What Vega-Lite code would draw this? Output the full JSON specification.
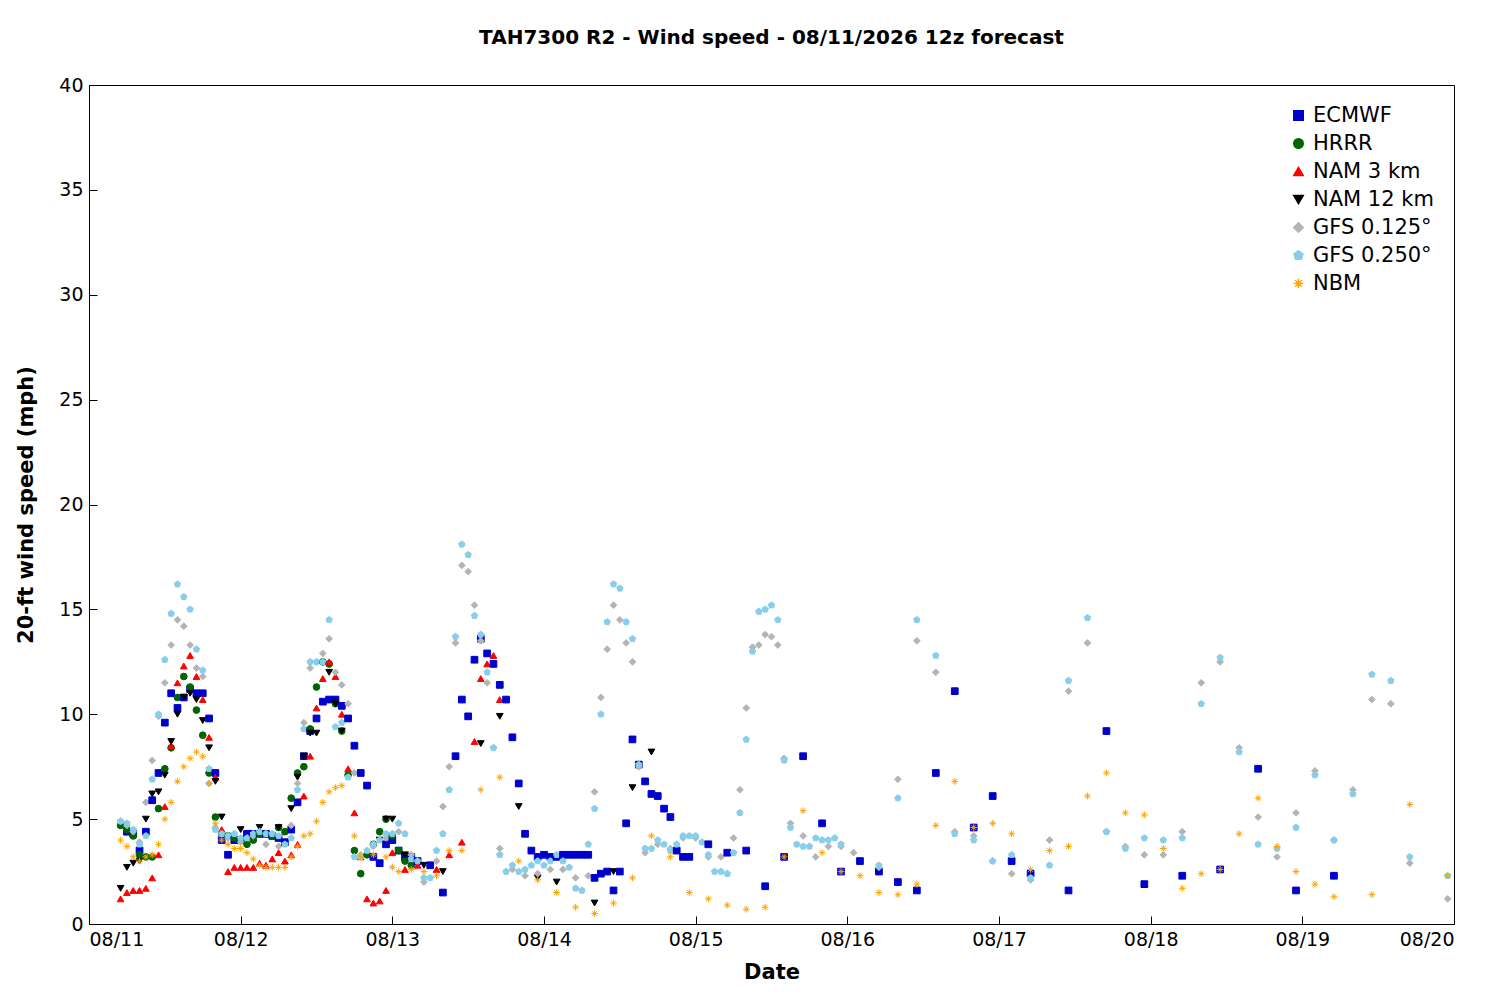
{
"$schema":"https://vega.github.io/schema/vega-lite/v6.json",
"width":1500,"height":1000,"autosize":{"type":"fit","contains":"padding"},
"padding":{"left":15,"right":45,"top":28,"bottom":18},
"background":"white",
"title":{"text":"TAH7300 R2 - Wind speed - 08/11/2026 12z forecast","font":"DejaVu Sans","fontSize":20,"fontWeight":"bold","color":"black","offset":28},
"config":{"view":{"stroke":"black","strokeWidth":1},"axis":{"grid":false,"labelFont":"DejaVu Sans","titleFont":"DejaVu Sans","labelFontSize":19,"titleFontSize":21,"titleFontWeight":"bold","labelColor":"black","titleColor":"black","domainColor":"black","tickColor":"black","tickSize":-8,"labelPadding":14}},
"datasets":{"d":[
{"m":"ECMWF","h":6,"v":4.4},{"m":"ECMWF","h":7,"v":4.3},{"m":"ECMWF","h":8,"v":3.5},{"m":"ECMWF","h":9,"v":4.4},{"m":"ECMWF","h":10,"v":5.9},{"m":"ECMWF","h":11,"v":7.2},{"m":"ECMWF","h":12,"v":9.6},{"m":"ECMWF","h":13,"v":11.0},{"m":"ECMWF","h":14,"v":10.3},{"m":"ECMWF","h":15,"v":10.8},{"m":"ECMWF","h":16,"v":11.2},{"m":"ECMWF","h":17,"v":11.0},{"m":"ECMWF","h":18,"v":11.0},{"m":"ECMWF","h":19,"v":9.8},{"m":"ECMWF","h":20,"v":7.2},{"m":"ECMWF","h":21,"v":4.0},{"m":"ECMWF","h":22,"v":3.3},{"m":"ECMWF","h":23,"v":4.0},{"m":"ECMWF","h":24,"v":4.0},{"m":"ECMWF","h":25,"v":4.3},{"m":"ECMWF","h":26,"v":4.3},{"m":"ECMWF","h":27,"v":4.3},{"m":"ECMWF","h":28,"v":4.3},{"m":"ECMWF","h":29,"v":4.2},{"m":"ECMWF","h":30,"v":4.1},{"m":"ECMWF","h":31,"v":3.9},{"m":"ECMWF","h":32,"v":4.5},{"m":"ECMWF","h":33,"v":5.8},{"m":"ECMWF","h":34,"v":8.0},{"m":"ECMWF","h":35,"v":9.2},{"m":"ECMWF","h":36,"v":9.8},{"m":"ECMWF","h":37,"v":10.6},{"m":"ECMWF","h":38,"v":10.7},{"m":"ECMWF","h":39,"v":10.7},{"m":"ECMWF","h":40,"v":10.4},{"m":"ECMWF","h":41,"v":9.8},{"m":"ECMWF","h":42,"v":8.5},{"m":"ECMWF","h":43,"v":7.2},{"m":"ECMWF","h":44,"v":6.6},{"m":"ECMWF","h":45,"v":3.2},{"m":"ECMWF","h":46,"v":2.9},{"m":"ECMWF","h":47,"v":3.8},{"m":"ECMWF","h":48,"v":4.0},{"m":"ECMWF","h":49,"v":3.5},{"m":"ECMWF","h":50,"v":3.2},{"m":"ECMWF","h":51,"v":3.2},{"m":"ECMWF","h":52,"v":3.0},{"m":"ECMWF","h":54,"v":2.8},{"m":"ECMWF","h":56,"v":1.5},{"m":"ECMWF","h":58,"v":8.0},{"m":"ECMWF","h":59,"v":10.7},{"m":"ECMWF","h":60,"v":9.9},{"m":"ECMWF","h":61,"v":12.6},{"m":"ECMWF","h":62,"v":13.6},{"m":"ECMWF","h":63,"v":12.9},{"m":"ECMWF","h":64,"v":12.4},{"m":"ECMWF","h":65,"v":11.4},{"m":"ECMWF","h":66,"v":10.7},{"m":"ECMWF","h":67,"v":8.9},{"m":"ECMWF","h":68,"v":6.7},{"m":"ECMWF","h":69,"v":4.3},{"m":"ECMWF","h":70,"v":3.5},{"m":"ECMWF","h":71,"v":3.2},{"m":"ECMWF","h":72,"v":3.3},{"m":"ECMWF","h":73,"v":3.2},{"m":"ECMWF","h":74,"v":3.2},{"m":"ECMWF","h":75,"v":3.3},{"m":"ECMWF","h":76,"v":3.3},{"m":"ECMWF","h":77,"v":3.3},{"m":"ECMWF","h":78,"v":3.3},{"m":"ECMWF","h":79,"v":3.3},{"m":"ECMWF","h":80,"v":2.2},{"m":"ECMWF","h":81,"v":2.4},{"m":"ECMWF","h":82,"v":2.5},{"m":"ECMWF","h":83,"v":1.6},{"m":"ECMWF","h":84,"v":2.5},{"m":"ECMWF","h":85,"v":4.8},{"m":"ECMWF","h":86,"v":8.8},{"m":"ECMWF","h":87,"v":7.6},{"m":"ECMWF","h":88,"v":6.8},{"m":"ECMWF","h":89,"v":6.2},{"m":"ECMWF","h":90,"v":6.1},{"m":"ECMWF","h":91,"v":5.5},{"m":"ECMWF","h":92,"v":5.1},{"m":"ECMWF","h":93,"v":3.5},{"m":"ECMWF","h":94,"v":3.2},{"m":"ECMWF","h":95,"v":3.2},{"m":"ECMWF","h":98,"v":3.8},{"m":"ECMWF","h":101,"v":3.4},{"m":"ECMWF","h":104,"v":3.5},{"m":"ECMWF","h":107,"v":1.8},{"m":"ECMWF","h":110,"v":3.2},{"m":"ECMWF","h":113,"v":8.0},{"m":"ECMWF","h":116,"v":4.8},{"m":"ECMWF","h":119,"v":2.5},{"m":"ECMWF","h":122,"v":3.0},{"m":"ECMWF","h":125,"v":2.5},{"m":"ECMWF","h":128,"v":2.0},{"m":"ECMWF","h":131,"v":1.6},{"m":"ECMWF","h":134,"v":7.2},{"m":"ECMWF","h":137,"v":11.1},{"m":"ECMWF","h":140,"v":4.6},{"m":"ECMWF","h":143,"v":6.1},{"m":"ECMWF","h":146,"v":3.0},{"m":"ECMWF","h":149,"v":2.4},{"m":"ECMWF","h":155,"v":1.6},{"m":"ECMWF","h":161,"v":9.2},{"m":"ECMWF","h":167,"v":1.9},{"m":"ECMWF","h":173,"v":2.3},{"m":"ECMWF","h":179,"v":2.6},{"m":"ECMWF","h":185,"v":7.4},{"m":"ECMWF","h":191,"v":1.6},{"m":"ECMWF","h":197,"v":2.3},
{"m":"HRRR","h":5,"v":4.7},{"m":"HRRR","h":6,"v":4.5},{"m":"HRRR","h":7,"v":4.2},{"m":"HRRR","h":8,"v":3.3},{"m":"HRRR","h":9,"v":3.2},{"m":"HRRR","h":10,"v":3.2},{"m":"HRRR","h":11,"v":5.5},{"m":"HRRR","h":12,"v":7.4},{"m":"HRRR","h":13,"v":8.4},{"m":"HRRR","h":14,"v":10.8},{"m":"HRRR","h":15,"v":11.8},{"m":"HRRR","h":16,"v":11.3},{"m":"HRRR","h":17,"v":10.2},{"m":"HRRR","h":18,"v":9.0},{"m":"HRRR","h":19,"v":7.2},{"m":"HRRR","h":20,"v":5.1},{"m":"HRRR","h":21,"v":4.3},{"m":"HRRR","h":22,"v":4.2},{"m":"HRRR","h":23,"v":4.1},{"m":"HRRR","h":24,"v":4.0},{"m":"HRRR","h":25,"v":3.8},{"m":"HRRR","h":26,"v":4.0},{"m":"HRRR","h":27,"v":4.3},{"m":"HRRR","h":28,"v":4.3},{"m":"HRRR","h":29,"v":4.2},{"m":"HRRR","h":30,"v":4.6},{"m":"HRRR","h":31,"v":4.4},{"m":"HRRR","h":32,"v":6.0},{"m":"HRRR","h":33,"v":7.2},{"m":"HRRR","h":34,"v":7.5},{"m":"HRRR","h":35,"v":9.3},{"m":"HRRR","h":36,"v":11.3},{"m":"HRRR","h":37,"v":12.5},{"m":"HRRR","h":38,"v":12.4},{"m":"HRRR","h":39,"v":10.5},{"m":"HRRR","h":40,"v":9.2},{"m":"HRRR","h":41,"v":7.1},{"m":"HRRR","h":42,"v":3.5},{"m":"HRRR","h":43,"v":2.4},{"m":"HRRR","h":44,"v":3.3},{"m":"HRRR","h":45,"v":3.8},{"m":"HRRR","h":46,"v":4.4},{"m":"HRRR","h":47,"v":5.0},{"m":"HRRR","h":48,"v":4.2},{"m":"HRRR","h":49,"v":3.5},{"m":"HRRR","h":50,"v":3.0},{"m":"HRRR","h":51,"v":2.8},
{"m":"NAM 3 km","h":5,"v":1.2},{"m":"NAM 3 km","h":6,"v":1.5},{"m":"NAM 3 km","h":7,"v":1.6},{"m":"NAM 3 km","h":8,"v":1.6},{"m":"NAM 3 km","h":9,"v":1.7},{"m":"NAM 3 km","h":10,"v":2.2},{"m":"NAM 3 km","h":11,"v":3.3},{"m":"NAM 3 km","h":12,"v":5.6},{"m":"NAM 3 km","h":13,"v":8.5},{"m":"NAM 3 km","h":14,"v":11.5},{"m":"NAM 3 km","h":15,"v":12.3},{"m":"NAM 3 km","h":16,"v":12.8},{"m":"NAM 3 km","h":17,"v":11.8},{"m":"NAM 3 km","h":18,"v":10.7},{"m":"NAM 3 km","h":19,"v":8.9},{"m":"NAM 3 km","h":20,"v":7.0},{"m":"NAM 3 km","h":21,"v":4.5},{"m":"NAM 3 km","h":22,"v":2.5},{"m":"NAM 3 km","h":23,"v":2.7},{"m":"NAM 3 km","h":24,"v":2.7},{"m":"NAM 3 km","h":25,"v":2.7},{"m":"NAM 3 km","h":26,"v":2.7},{"m":"NAM 3 km","h":27,"v":2.9},{"m":"NAM 3 km","h":28,"v":2.8},{"m":"NAM 3 km","h":29,"v":3.1},{"m":"NAM 3 km","h":30,"v":3.4},{"m":"NAM 3 km","h":31,"v":3.0},{"m":"NAM 3 km","h":32,"v":3.3},{"m":"NAM 3 km","h":33,"v":3.8},{"m":"NAM 3 km","h":34,"v":6.1},{"m":"NAM 3 km","h":35,"v":8.0},{"m":"NAM 3 km","h":36,"v":10.3},{"m":"NAM 3 km","h":37,"v":11.7},{"m":"NAM 3 km","h":38,"v":12.5},{"m":"NAM 3 km","h":39,"v":11.8},{"m":"NAM 3 km","h":40,"v":10.0},{"m":"NAM 3 km","h":41,"v":7.4},{"m":"NAM 3 km","h":42,"v":5.3},{"m":"NAM 3 km","h":43,"v":3.2},{"m":"NAM 3 km","h":44,"v":1.2},{"m":"NAM 3 km","h":45,"v":1.0},{"m":"NAM 3 km","h":46,"v":1.1},{"m":"NAM 3 km","h":47,"v":1.6},{"m":"NAM 3 km","h":48,"v":3.4},{"m":"NAM 3 km","h":50,"v":2.6},{"m":"NAM 3 km","h":52,"v":2.8},{"m":"NAM 3 km","h":55,"v":2.6},{"m":"NAM 3 km","h":57,"v":3.3},{"m":"NAM 3 km","h":59,"v":3.9},{"m":"NAM 3 km","h":61,"v":8.7},{"m":"NAM 3 km","h":62,"v":11.7},{"m":"NAM 3 km","h":63,"v":12.4},{"m":"NAM 3 km","h":64,"v":12.8},{"m":"NAM 3 km","h":65,"v":10.7},
{"m":"NAM 12 km","h":5,"v":1.7},{"m":"NAM 12 km","h":6,"v":2.7},{"m":"NAM 12 km","h":7,"v":2.9},{"m":"NAM 12 km","h":8,"v":3.0},{"m":"NAM 12 km","h":9,"v":5.0},{"m":"NAM 12 km","h":10,"v":6.2},{"m":"NAM 12 km","h":11,"v":6.3},{"m":"NAM 12 km","h":12,"v":7.1},{"m":"NAM 12 km","h":13,"v":8.7},{"m":"NAM 12 km","h":14,"v":10.0},{"m":"NAM 12 km","h":15,"v":10.8},{"m":"NAM 12 km","h":16,"v":11.0},{"m":"NAM 12 km","h":17,"v":10.7},{"m":"NAM 12 km","h":18,"v":9.7},{"m":"NAM 12 km","h":19,"v":8.4},{"m":"NAM 12 km","h":20,"v":6.8},{"m":"NAM 12 km","h":21,"v":5.1},{"m":"NAM 12 km","h":24,"v":4.5},{"m":"NAM 12 km","h":27,"v":4.6},{"m":"NAM 12 km","h":30,"v":4.6},{"m":"NAM 12 km","h":32,"v":5.5},{"m":"NAM 12 km","h":33,"v":7.0},{"m":"NAM 12 km","h":34,"v":8.0},{"m":"NAM 12 km","h":35,"v":9.1},{"m":"NAM 12 km","h":36,"v":9.1},{"m":"NAM 12 km","h":38,"v":12.0},{"m":"NAM 12 km","h":39,"v":10.5},{"m":"NAM 12 km","h":40,"v":9.2},{"m":"NAM 12 km","h":46,"v":4.0},{"m":"NAM 12 km","h":47,"v":5.0},{"m":"NAM 12 km","h":48,"v":5.0},{"m":"NAM 12 km","h":50,"v":3.3},{"m":"NAM 12 km","h":53,"v":2.8},{"m":"NAM 12 km","h":56,"v":2.5},{"m":"NAM 12 km","h":62,"v":8.6},{"m":"NAM 12 km","h":65,"v":9.9},{"m":"NAM 12 km","h":68,"v":5.6},{"m":"NAM 12 km","h":71,"v":2.2},{"m":"NAM 12 km","h":74,"v":2.0},{"m":"NAM 12 km","h":80,"v":1.0},{"m":"NAM 12 km","h":83,"v":2.5},{"m":"NAM 12 km","h":86,"v":6.5},{"m":"NAM 12 km","h":89,"v":8.2},
{"m":"GFS 0.125°","h":5,"v":4.9},{"m":"GFS 0.125°","h":6,"v":4.7},{"m":"GFS 0.125°","h":7,"v":4.4},{"m":"GFS 0.125°","h":8,"v":3.9},{"m":"GFS 0.125°","h":9,"v":5.8},{"m":"GFS 0.125°","h":10,"v":7.8},{"m":"GFS 0.125°","h":11,"v":9.9},{"m":"GFS 0.125°","h":12,"v":11.5},{"m":"GFS 0.125°","h":13,"v":13.3},{"m":"GFS 0.125°","h":14,"v":14.5},{"m":"GFS 0.125°","h":15,"v":14.2},{"m":"GFS 0.125°","h":16,"v":13.3},{"m":"GFS 0.125°","h":17,"v":12.2},{"m":"GFS 0.125°","h":18,"v":11.8},{"m":"GFS 0.125°","h":19,"v":6.7},{"m":"GFS 0.125°","h":20,"v":4.6},{"m":"GFS 0.125°","h":22,"v":4.1},{"m":"GFS 0.125°","h":24,"v":3.9},{"m":"GFS 0.125°","h":26,"v":4.2},{"m":"GFS 0.125°","h":28,"v":3.8},{"m":"GFS 0.125°","h":30,"v":3.7},{"m":"GFS 0.125°","h":32,"v":4.7},{"m":"GFS 0.125°","h":33,"v":6.7},{"m":"GFS 0.125°","h":34,"v":9.6},{"m":"GFS 0.125°","h":35,"v":12.2},{"m":"GFS 0.125°","h":36,"v":12.5},{"m":"GFS 0.125°","h":37,"v":12.9},{"m":"GFS 0.125°","h":38,"v":13.6},{"m":"GFS 0.125°","h":39,"v":12.0},{"m":"GFS 0.125°","h":40,"v":11.4},{"m":"GFS 0.125°","h":41,"v":10.5},{"m":"GFS 0.125°","h":42,"v":7.2},{"m":"GFS 0.125°","h":43,"v":3.3},{"m":"GFS 0.125°","h":45,"v":3.7},{"m":"GFS 0.125°","h":47,"v":4.1},{"m":"GFS 0.125°","h":49,"v":4.4},{"m":"GFS 0.125°","h":51,"v":3.3},{"m":"GFS 0.125°","h":53,"v":2.0},{"m":"GFS 0.125°","h":55,"v":3.0},{"m":"GFS 0.125°","h":56,"v":5.6},{"m":"GFS 0.125°","h":57,"v":7.5},{"m":"GFS 0.125°","h":58,"v":13.4},{"m":"GFS 0.125°","h":59,"v":17.1},{"m":"GFS 0.125°","h":60,"v":16.8},{"m":"GFS 0.125°","h":61,"v":15.2},{"m":"GFS 0.125°","h":62,"v":13.5},{"m":"GFS 0.125°","h":63,"v":11.5},{"m":"GFS 0.125°","h":64,"v":8.4},{"m":"GFS 0.125°","h":65,"v":3.6},{"m":"GFS 0.125°","h":67,"v":2.6},{"m":"GFS 0.125°","h":69,"v":2.3},{"m":"GFS 0.125°","h":71,"v":2.4},{"m":"GFS 0.125°","h":73,"v":2.6},{"m":"GFS 0.125°","h":75,"v":2.6},{"m":"GFS 0.125°","h":77,"v":2.2},{"m":"GFS 0.125°","h":79,"v":2.3},{"m":"GFS 0.125°","h":80,"v":6.3},{"m":"GFS 0.125°","h":81,"v":10.8},{"m":"GFS 0.125°","h":82,"v":13.1},{"m":"GFS 0.125°","h":83,"v":15.2},{"m":"GFS 0.125°","h":84,"v":14.5},{"m":"GFS 0.125°","h":85,"v":13.4},{"m":"GFS 0.125°","h":86,"v":12.5},{"m":"GFS 0.125°","h":87,"v":7.5},{"m":"GFS 0.125°","h":88,"v":3.4},{"m":"GFS 0.125°","h":90,"v":3.8},{"m":"GFS 0.125°","h":92,"v":3.6},{"m":"GFS 0.125°","h":94,"v":4.1},{"m":"GFS 0.125°","h":96,"v":4.1},{"m":"GFS 0.125°","h":98,"v":3.2},{"m":"GFS 0.125°","h":100,"v":3.2},{"m":"GFS 0.125°","h":102,"v":4.1},{"m":"GFS 0.125°","h":103,"v":6.4},{"m":"GFS 0.125°","h":104,"v":10.3},{"m":"GFS 0.125°","h":105,"v":13.2},{"m":"GFS 0.125°","h":106,"v":13.3},{"m":"GFS 0.125°","h":107,"v":13.8},{"m":"GFS 0.125°","h":108,"v":13.7},{"m":"GFS 0.125°","h":109,"v":13.3},{"m":"GFS 0.125°","h":110,"v":7.9},{"m":"GFS 0.125°","h":111,"v":4.8},{"m":"GFS 0.125°","h":113,"v":4.2},{"m":"GFS 0.125°","h":115,"v":3.2},{"m":"GFS 0.125°","h":117,"v":3.7},{"m":"GFS 0.125°","h":119,"v":3.7},{"m":"GFS 0.125°","h":121,"v":3.4},
{"m":"GFS 0.125°","h":125,"v":2.7},{"m":"GFS 0.125°","h":128,"v":6.9},{"m":"GFS 0.125°","h":131,"v":13.5},{"m":"GFS 0.125°","h":134,"v":12.0},{"m":"GFS 0.125°","h":137,"v":4.4},{"m":"GFS 0.125°","h":140,"v":4.2},{"m":"GFS 0.125°","h":143,"v":3.0},{"m":"GFS 0.125°","h":146,"v":2.4},{"m":"GFS 0.125°","h":149,"v":2.1},{"m":"GFS 0.125°","h":152,"v":4.0},{"m":"GFS 0.125°","h":155,"v":11.1},{"m":"GFS 0.125°","h":158,"v":13.4},{"m":"GFS 0.125°","h":161,"v":4.4},{"m":"GFS 0.125°","h":164,"v":3.7},{"m":"GFS 0.125°","h":167,"v":3.3},{"m":"GFS 0.125°","h":170,"v":3.3},{"m":"GFS 0.125°","h":173,"v":4.4},{"m":"GFS 0.125°","h":176,"v":11.5},{"m":"GFS 0.125°","h":179,"v":12.5},{"m":"GFS 0.125°","h":182,"v":8.4},{"m":"GFS 0.125°","h":185,"v":5.1},{"m":"GFS 0.125°","h":188,"v":3.2},{"m":"GFS 0.125°","h":191,"v":5.3},{"m":"GFS 0.125°","h":194,"v":7.3},{"m":"GFS 0.125°","h":197,"v":4.0},{"m":"GFS 0.125°","h":200,"v":6.4},{"m":"GFS 0.125°","h":203,"v":10.7},{"m":"GFS 0.125°","h":206,"v":10.5},{"m":"GFS 0.125°","h":209,"v":2.9},{"m":"GFS 0.125°","h":215,"v":1.2},
{"m":"GFS 0.250°","h":5,"v":4.9},{"m":"GFS 0.250°","h":6,"v":4.8},{"m":"GFS 0.250°","h":7,"v":4.5},{"m":"GFS 0.250°","h":8,"v":3.8},{"m":"GFS 0.250°","h":9,"v":4.2},{"m":"GFS 0.250°","h":10,"v":6.9},{"m":"GFS 0.250°","h":11,"v":10.0},{"m":"GFS 0.250°","h":12,"v":12.6},{"m":"GFS 0.250°","h":13,"v":14.8},{"m":"GFS 0.250°","h":14,"v":16.2},{"m":"GFS 0.250°","h":15,"v":15.6},{"m":"GFS 0.250°","h":16,"v":15.0},{"m":"GFS 0.250°","h":17,"v":13.1},{"m":"GFS 0.250°","h":18,"v":12.1},{"m":"GFS 0.250°","h":19,"v":7.4},{"m":"GFS 0.250°","h":20,"v":4.5},{"m":"GFS 0.250°","h":21,"v":4.3},{"m":"GFS 0.250°","h":22,"v":4.2},{"m":"GFS 0.250°","h":23,"v":4.3},{"m":"GFS 0.250°","h":24,"v":4.1},{"m":"GFS 0.250°","h":25,"v":4.1},{"m":"GFS 0.250°","h":26,"v":4.3},{"m":"GFS 0.250°","h":27,"v":4.4},{"m":"GFS 0.250°","h":28,"v":4.3},{"m":"GFS 0.250°","h":29,"v":4.3},{"m":"GFS 0.250°","h":30,"v":4.2},{"m":"GFS 0.250°","h":31,"v":3.8},{"m":"GFS 0.250°","h":32,"v":4.1},{"m":"GFS 0.250°","h":33,"v":6.4},{"m":"GFS 0.250°","h":34,"v":9.3},{"m":"GFS 0.250°","h":35,"v":12.5},{"m":"GFS 0.250°","h":36,"v":12.5},{"m":"GFS 0.250°","h":37,"v":12.5},{"m":"GFS 0.250°","h":38,"v":14.5},{"m":"GFS 0.250°","h":39,"v":9.4},{"m":"GFS 0.250°","h":40,"v":9.6},{"m":"GFS 0.250°","h":41,"v":7.0},{"m":"GFS 0.250°","h":42,"v":3.2},{"m":"GFS 0.250°","h":43,"v":3.2},{"m":"GFS 0.250°","h":44,"v":3.5},{"m":"GFS 0.250°","h":45,"v":3.8},{"m":"GFS 0.250°","h":46,"v":4.0},{"m":"GFS 0.250°","h":47,"v":4.3},{"m":"GFS 0.250°","h":48,"v":4.3},{"m":"GFS 0.250°","h":49,"v":4.8},{"m":"GFS 0.250°","h":50,"v":4.3},{"m":"GFS 0.250°","h":51,"v":3.1},{"m":"GFS 0.250°","h":52,"v":3.0},{"m":"GFS 0.250°","h":53,"v":2.2},{"m":"GFS 0.250°","h":54,"v":2.2},{"m":"GFS 0.250°","h":55,"v":3.5},{"m":"GFS 0.250°","h":56,"v":4.3},{"m":"GFS 0.250°","h":57,"v":6.4},{"m":"GFS 0.250°","h":58,"v":13.7},{"m":"GFS 0.250°","h":59,"v":18.1},{"m":"GFS 0.250°","h":60,"v":17.6},{"m":"GFS 0.250°","h":61,"v":14.7},{"m":"GFS 0.250°","h":62,"v":13.8},{"m":"GFS 0.250°","h":63,"v":12.0},{"m":"GFS 0.250°","h":64,"v":8.4},{"m":"GFS 0.250°","h":65,"v":3.3},{"m":"GFS 0.250°","h":66,"v":2.5},{"m":"GFS 0.250°","h":67,"v":2.8},{"m":"GFS 0.250°","h":68,"v":2.5},{"m":"GFS 0.250°","h":69,"v":2.6},{"m":"GFS 0.250°","h":70,"v":2.8},{"m":"GFS 0.250°","h":71,"v":3.0},{"m":"GFS 0.250°","h":72,"v":2.8},{"m":"GFS 0.250°","h":73,"v":3.0},{"m":"GFS 0.250°","h":74,"v":3.3},{"m":"GFS 0.250°","h":75,"v":3.0},{"m":"GFS 0.250°","h":76,"v":2.7},{"m":"GFS 0.250°","h":77,"v":1.7},{"m":"GFS 0.250°","h":78,"v":1.6},{"m":"GFS 0.250°","h":79,"v":3.8},{"m":"GFS 0.250°","h":80,"v":5.5},{"m":"GFS 0.250°","h":81,"v":10.0},{"m":"GFS 0.250°","h":82,"v":14.4},{"m":"GFS 0.250°","h":83,"v":16.2},{"m":"GFS 0.250°","h":84,"v":16.0},{"m":"GFS 0.250°","h":85,"v":14.4},{"m":"GFS 0.250°","h":86,"v":13.6},{"m":"GFS 0.250°","h":87,"v":7.6},{"m":"GFS 0.250°","h":88,"v":3.6},{"m":"GFS 0.250°","h":89,"v":3.6},{"m":"GFS 0.250°","h":90,"v":4.0},{"m":"GFS 0.250°","h":91,"v":3.8},{"m":"GFS 0.250°","h":92,"v":3.5},{"m":"GFS 0.250°","h":93,"v":3.8},{"m":"GFS 0.250°","h":94,"v":4.2},{"m":"GFS 0.250°","h":95,"v":4.2},{"m":"GFS 0.250°","h":96,"v":4.2},{"m":"GFS 0.250°","h":97,"v":3.9},{"m":"GFS 0.250°","h":98,"v":3.3},{"m":"GFS 0.250°","h":99,"v":2.5},{"m":"GFS 0.250°","h":100,"v":2.5},{"m":"GFS 0.250°","h":101,"v":2.4},{"m":"GFS 0.250°","h":102,"v":3.4},{"m":"GFS 0.250°","h":103,"v":5.3},{"m":"GFS 0.250°","h":104,"v":8.8},{"m":"GFS 0.250°","h":105,"v":13.0},{"m":"GFS 0.250°","h":106,"v":14.9},{"m":"GFS 0.250°","h":107,"v":15.0},{"m":"GFS 0.250°","h":108,"v":15.2},{"m":"GFS 0.250°","h":109,"v":14.5},{"m":"GFS 0.250°","h":110,"v":7.8},{"m":"GFS 0.250°","h":111,"v":4.6},{"m":"GFS 0.250°","h":112,"v":3.8},{"m":"GFS 0.250°","h":113,"v":3.7},{"m":"GFS 0.250°","h":114,"v":3.7},{"m":"GFS 0.250°","h":115,"v":4.1},{"m":"GFS 0.250°","h":116,"v":4.0},{"m":"GFS 0.250°","h":117,"v":4.0},{"m":"GFS 0.250°","h":118,"v":4.1},{"m":"GFS 0.250°","h":119,"v":3.8},
{"m":"GFS 0.250°","h":125,"v":2.8},{"m":"GFS 0.250°","h":128,"v":6.0},{"m":"GFS 0.250°","h":131,"v":14.5},{"m":"GFS 0.250°","h":134,"v":12.8},{"m":"GFS 0.250°","h":137,"v":4.3},{"m":"GFS 0.250°","h":140,"v":4.0},{"m":"GFS 0.250°","h":143,"v":3.0},{"m":"GFS 0.250°","h":146,"v":3.3},{"m":"GFS 0.250°","h":149,"v":2.2},{"m":"GFS 0.250°","h":152,"v":2.8},{"m":"GFS 0.250°","h":155,"v":11.6},{"m":"GFS 0.250°","h":158,"v":14.6},{"m":"GFS 0.250°","h":161,"v":4.4},{"m":"GFS 0.250°","h":164,"v":3.6},{"m":"GFS 0.250°","h":167,"v":4.1},{"m":"GFS 0.250°","h":170,"v":4.0},{"m":"GFS 0.250°","h":173,"v":4.1},{"m":"GFS 0.250°","h":176,"v":10.5},{"m":"GFS 0.250°","h":179,"v":12.7},{"m":"GFS 0.250°","h":182,"v":8.2},{"m":"GFS 0.250°","h":185,"v":3.8},{"m":"GFS 0.250°","h":188,"v":3.6},{"m":"GFS 0.250°","h":191,"v":4.6},{"m":"GFS 0.250°","h":194,"v":7.1},{"m":"GFS 0.250°","h":197,"v":4.0},{"m":"GFS 0.250°","h":200,"v":6.2},{"m":"GFS 0.250°","h":203,"v":11.9},{"m":"GFS 0.250°","h":206,"v":11.6},{"m":"GFS 0.250°","h":209,"v":3.2},{"m":"GFS 0.250°","h":215,"v":2.3},
{"m":"NBM","h":5,"v":4.0},{"m":"NBM","h":6,"v":3.7},{"m":"NBM","h":7,"v":3.2},{"m":"NBM","h":8,"v":3.0},{"m":"NBM","h":9,"v":3.2},{"m":"NBM","h":10,"v":3.3},{"m":"NBM","h":11,"v":3.8},{"m":"NBM","h":12,"v":5.0},{"m":"NBM","h":13,"v":5.8},{"m":"NBM","h":14,"v":6.8},{"m":"NBM","h":15,"v":7.5},{"m":"NBM","h":16,"v":7.9},{"m":"NBM","h":17,"v":8.2},{"m":"NBM","h":18,"v":8.0},{"m":"NBM","h":19,"v":6.7},{"m":"NBM","h":20,"v":4.8},{"m":"NBM","h":21,"v":4.0},{"m":"NBM","h":22,"v":3.8},{"m":"NBM","h":23,"v":3.6},{"m":"NBM","h":24,"v":3.6},{"m":"NBM","h":25,"v":3.4},{"m":"NBM","h":26,"v":3.1},{"m":"NBM","h":27,"v":2.8},{"m":"NBM","h":28,"v":2.7},{"m":"NBM","h":29,"v":2.7},{"m":"NBM","h":30,"v":2.7},{"m":"NBM","h":31,"v":2.7},{"m":"NBM","h":32,"v":3.2},{"m":"NBM","h":33,"v":3.7},{"m":"NBM","h":34,"v":4.2},{"m":"NBM","h":35,"v":4.3},{"m":"NBM","h":36,"v":4.9},{"m":"NBM","h":37,"v":5.8},{"m":"NBM","h":38,"v":6.3},{"m":"NBM","h":39,"v":6.5},{"m":"NBM","h":40,"v":6.6},{"m":"NBM","h":42,"v":4.2},{"m":"NBM","h":43,"v":3.2},{"m":"NBM","h":45,"v":3.3},{"m":"NBM","h":47,"v":3.2},{"m":"NBM","h":48,"v":2.7},{"m":"NBM","h":49,"v":2.5},{"m":"NBM","h":51,"v":2.6},{"m":"NBM","h":53,"v":2.5},{"m":"NBM","h":55,"v":2.3},{"m":"NBM","h":57,"v":3.5},
{"m":"NBM","h":59,"v":3.5},{"m":"NBM","h":62,"v":6.4},{"m":"NBM","h":65,"v":7.0},{"m":"NBM","h":68,"v":3.0},{"m":"NBM","h":71,"v":2.1},{"m":"NBM","h":74,"v":1.5},{"m":"NBM","h":77,"v":0.8},{"m":"NBM","h":80,"v":0.5},{"m":"NBM","h":83,"v":1.0},{"m":"NBM","h":86,"v":2.2},{"m":"NBM","h":89,"v":4.2},{"m":"NBM","h":92,"v":3.2},{"m":"NBM","h":95,"v":1.5},{"m":"NBM","h":98,"v":1.2},{"m":"NBM","h":101,"v":0.9},{"m":"NBM","h":104,"v":0.7},{"m":"NBM","h":107,"v":0.8},{"m":"NBM","h":110,"v":3.2},{"m":"NBM","h":113,"v":5.4},{"m":"NBM","h":116,"v":3.4},{"m":"NBM","h":119,"v":2.5},{"m":"NBM","h":122,"v":2.3},{"m":"NBM","h":125,"v":1.5},{"m":"NBM","h":128,"v":1.4},{"m":"NBM","h":131,"v":1.9},{"m":"NBM","h":134,"v":4.7},{"m":"NBM","h":137,"v":6.8},{"m":"NBM","h":140,"v":4.6},{"m":"NBM","h":143,"v":4.8},{"m":"NBM","h":146,"v":4.3},{"m":"NBM","h":149,"v":2.6},{"m":"NBM","h":152,"v":3.5},{"m":"NBM","h":155,"v":3.7},{"m":"NBM","h":158,"v":6.1},{"m":"NBM","h":161,"v":7.2},{"m":"NBM","h":164,"v":5.3},{"m":"NBM","h":167,"v":5.2},{"m":"NBM","h":170,"v":3.6},{"m":"NBM","h":173,"v":1.7},{"m":"NBM","h":176,"v":2.4},{"m":"NBM","h":179,"v":2.6},{"m":"NBM","h":182,"v":4.3},{"m":"NBM","h":185,"v":6.0},{"m":"NBM","h":188,"v":3.7},{"m":"NBM","h":191,"v":2.5},{"m":"NBM","h":194,"v":1.9},{"m":"NBM","h":197,"v":1.3},{"m":"NBM","h":203,"v":1.4},{"m":"NBM","h":209,"v":5.7},{"m":"NBM","h":215,"v":2.3}
]},
"data":{"name":"d"},
"mark":{"type":"point","filled":true,"size":45,"strokeWidth":1,"opacity":1},
"encoding":{
"x":{"field":"h","type":"quantitative","scale":{"domain":[0,216],"nice":false},"axis":{"values":[0,24,48,72,96,120,144,168,192,216],"labelExpr":"'08/' + (11 + datum.value/24)","title":"Date","titlePadding":12}},
"y":{"field":"v","type":"quantitative","scale":{"domain":[0,40],"nice":false},"axis":{"values":[0,5,10,15,20,25,30,35,40],"title":"20-ft wind speed (mph)","titlePadding":22}},
"color":{"field":"m","type":"nominal","scale":{"domain":["ECMWF","HRRR","NAM 3 km","NAM 12 km","GFS 0.125°","GFS 0.250°","NBM"],"range":["#0000cc","#006400","#ff0000","#000000","#b4b4b4","#87ceeb","#ffa500"]},"legend":{"title":null,"orient":"top-right","offset":20,"labelFontSize":21,"labelFont":"DejaVu Sans","labelColor":"black","symbolSize":90,"rowPadding":6,"fillColor":"white"}},
"stroke":{"field":"m","type":"nominal","scale":{"domain":["ECMWF","HRRR","NAM 3 km","NAM 12 km","GFS 0.125°","GFS 0.250°","NBM"],"range":["#0000cc","#006400","#ff0000","#000000","#b4b4b4","#87ceeb","#ffa500"]},"legend":null},
"shape":{"field":"m","type":"nominal","scale":{"domain":["ECMWF","HRRR","NAM 3 km","NAM 12 km","GFS 0.125°","GFS 0.250°","NBM"],"range":["square","circle","triangle-up","triangle-down","diamond","M0,-1L0.95,-0.31L0.59,0.81L-0.59,0.81L-0.95,-0.31Z","M-1,0L1,0M0,-1L0,1M-0.7,-0.7L0.7,0.7M-0.7,0.7L0.7,-0.7"]}},
"order":{"field":"h"}
}
}
